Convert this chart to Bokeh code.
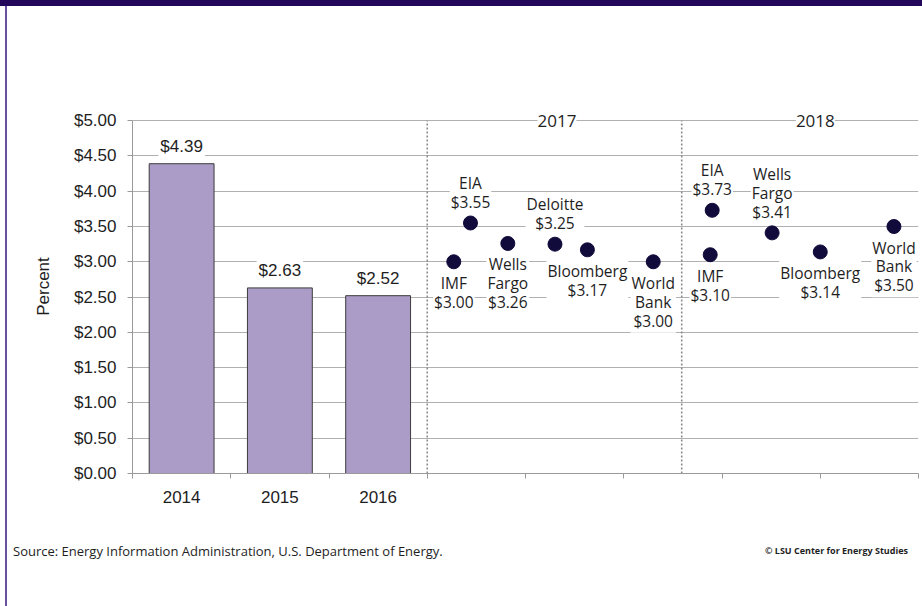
from bokeh.plotting import figure
from bokeh.models import (ColumnDataSource, Range1d, FixedTicker, NumeralTickFormatter,
                          LabelSet, Div)
from bokeh.layouts import column, row
from bokeh.core.properties import value
from bokeh.embed import file_html
from bokeh.resources import INLINE

# ---------------- data ----------------
years = ["2014", "2015", "2016"]
prices = [4.39, 2.63, 2.52]

forecast_years = ["2017", "2018"]
year_header_x = [4.32, 6.95]
year_dividers = [3.0, 5.59]

names_2017 = ["IMF", "EIA", "Wells Fargo", "Deloitte", "Bloomberg", "World Bank"]
values_2017 = [3.00, 3.55, 3.26, 3.25, 3.17, 3.00]
xpos_2017 = [3.27, 3.44, 3.82, 4.30, 4.63, 5.30]
side_2017 = ["below", "above", "below", "above", "below", "below"]

names_2018 = ["IMF", "EIA", "Wells Fargo", "Bloomberg", "World Bank"]
values_2018 = [3.10, 3.73, 3.41, 3.14, 3.50]
xpos_2018 = [5.88, 5.90, 6.51, 7.00, 7.75]
side_2018 = ["below", "above", "above", "below", "below"]

y_ticks = [0, 0.5, 1, 1.5, 2, 2.5, 3, 3.5, 4, 4.5, 5]

source_note = "Source: Energy Information Administration, U.S. Department of Energy."
credit_note = "\u00a9 LSU Center for Energy Studies"

# ---------------- styles ----------------
AX_FONT = "Liberation Sans"
LBL_FONT = "Open Sans"
BAR_FILL = "#ab9bc7"
DOT = "#100b3a"
GRID = "#b0b0b0"
AXIS = "#9a9a9a"
TXT = "#1e1e1e"
BAND = "#22075a"
RULE = "#6a50a2"

PAGE_W, PAGE_H = 922, 606
BAND_H = 6
GAP_L, RULE_W = 5, 2
FIG_W = PAGE_W - GAP_L - RULE_W
FIG_H = 530
NOTE_H = PAGE_H - BAND_H - FIG_H
NO_MARGIN = (0, 0, 0, 0)

p = figure(width=FIG_W, height=FIG_H, output_backend="svg", toolbar_location=None,
           x_range=Range1d(0, 8), y_range=Range1d(0, 5.3),
           min_border_left=125, min_border_right=4, min_border_top=93,
           min_border_bottom=63)
p.outline_line_color = None
p.background_fill_color = "white"
p.border_fill_color = "white"

# axes
p.yaxis.ticker = FixedTicker(ticks=y_ticks)
p.yaxis.bounds = (0, 5)
p.yaxis.formatter = NumeralTickFormatter(format="$0.00")
p.yaxis.axis_label = "Percent"
p.yaxis.axis_label_text_font = AX_FONT
p.yaxis.axis_label_text_font_size = "17px"
p.yaxis.axis_label_text_font_style = "normal"
p.yaxis.axis_label_text_color = TXT
p.yaxis.axis_label_standoff = 18
p.yaxis.major_label_text_font = AX_FONT
p.yaxis.major_label_text_font_size = "17px"
p.yaxis.major_label_text_color = TXT
p.yaxis.major_label_standoff = 11
p.yaxis.major_tick_out = 5
p.yaxis.major_tick_in = 0
p.yaxis.major_tick_line_color = AXIS
p.yaxis.minor_tick_line_color = None
p.yaxis.axis_line_color = AXIS

centers = [i + 0.5 for i in range(len(years))]
p.xaxis.ticker = FixedTicker(ticks=centers, minor_ticks=list(range(0, 9)))
p.xaxis.major_label_overrides = {c: y for c, y in zip(centers, years)}
p.xaxis.major_label_text_font = AX_FONT
p.xaxis.major_label_text_font_size = "17px"
p.xaxis.major_label_text_color = TXT
p.xaxis.major_label_standoff = 12
p.xaxis.major_tick_line_color = None
p.xaxis.major_tick_out = 0
p.xaxis.major_tick_in = 0
p.xaxis.minor_tick_line_color = AXIS
p.xaxis.minor_tick_out = 5
p.xaxis.minor_tick_in = 0
p.xaxis.axis_line_color = AXIS

p.xgrid.grid_line_color = None
p.ygrid.grid_line_color = GRID
p.ygrid.grid_line_width = 1

# bars
bar_src = ColumnDataSource(dict(x=centers, top=prices,
                                label=["$%.2f" % v for v in prices]))
p.vbar(x="x", top="top", bottom=0, width=0.66, source=bar_src,
       fill_color=BAR_FILL, line_color="#3c3c3c", line_width=1)
p.text(x="x", y="top", text="label", source=bar_src, text_align="center",
       text_baseline="bottom", y_offset=-6, text_font=value(AX_FONT),
       text_font_size="17px", text_color=TXT,
       background_fill_color="white", padding=2)

# dotted dividers
p.segment(x0=year_dividers, y0=[0] * len(year_dividers), x1=year_dividers,
          y1=[5] * len(year_dividers), line_color="#8a8a8a", line_width=1.6,
          line_dash="2 2")

# forecast points
names = names_2017 + names_2018
vals = values_2017 + values_2018
xs = xpos_2017 + xpos_2018
sides = side_2017 + side_2018
labels = [n.replace(" ", "\n") + "\n$%.2f" % v for n, v in zip(names, vals)]
baselines = ["top" if s == "below" else "bottom" for s in sides]
offs = [9 if s == "below" else -9 for s in sides]
fsrc = ColumnDataSource(dict(x=xs, y=vals, label=labels, bl=baselines, off=offs))
p.text(x="x", y="y", text="label", source=fsrc, text_align="center",
       text_baseline="bl", y_offset="off", text_font=value(LBL_FONT),
       text_font_size="15.5px", text_color=TXT, text_line_height=0.86,
       background_fill_color="white", padding=1)
p.scatter(x="x", y="y", source=fsrc, size=14, fill_color=DOT, line_color=DOT)

# year headers
hsrc = ColumnDataSource(dict(x=year_header_x, y=[5] * len(forecast_years),
                             t=forecast_years))
p.add_layout(LabelSet(x="x", y="y", text="t", source=hsrc, text_align="center",
                      text_baseline="middle", text_font=value(LBL_FONT),
                      text_font_size="17px", text_color=TXT,
                      background_fill_color="white"))

# page furniture
band = Div(width=PAGE_W, height=BAND_H, margin=NO_MARGIN,
           styles={"background-color": BAND})
gap = Div(width=GAP_L, height=PAGE_H - BAND_H, margin=NO_MARGIN)
rule = Div(width=RULE_W, height=PAGE_H - BAND_H, margin=NO_MARGIN,
           styles={"background-color": RULE})
notes = Div(width=FIG_W, height=NOTE_H, margin=NO_MARGIN, text=(
    '<div style="display:flex;justify-content:space-between;align-items:center;'
    'width:%dpx;height:30px;padding:0 14px 0 6px;box-sizing:border-box;'
    'font-family:\'Open Sans\';color:%s">'
    '<span style="font-size:13px">%s</span>'
    '<span style="font-size:9px;font-weight:bold">%s</span></div>'
    % (FIG_W, TXT, source_note, credit_note)))

layout = column(band, row(gap, rule, column(p, notes)))

open("out.html", "w").write(file_html(layout, INLINE))
